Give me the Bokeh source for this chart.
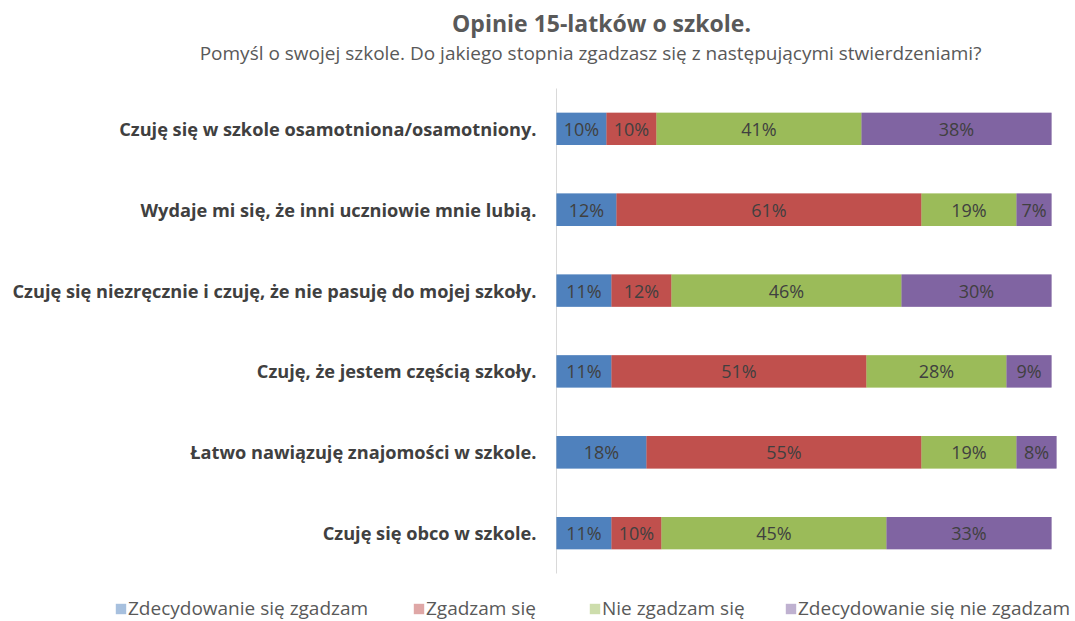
from bokeh.plotting import figure
from bokeh.models import ColumnDataSource, Range1d, Legend, LegendItem, Label
from bokeh.core.properties import value
from bokeh.embed import file_html
from bokeh.resources import INLINE

title_text = "Opinie 15-latków o szkole."
subtitle_text = "Pomyśl o swojej szkole. Do jakiego stopnia zgadzasz się z następującymi stwierdzeniami?"
categories = [
    "Czuję się w szkole osamotniona/osamotniony.",
    "Wydaje mi się, że inni uczniowie mnie lubią.",
    "Czuję się niezręcznie i czuję, że nie pasuję do mojej szkoły.",
    "Czuję, że jestem częścią szkoły.",
    "Łatwo nawiązuję znajomości w szkole.",
    "Czuję się obco w szkole.",
]
series_names = ["Zdecydowanie się zgadzam", "Zgadzam się", "Nie zgadzam się", "Zdecydowanie się nie zgadzam"]
strongly_agree = [10, 12, 11, 11, 18, 11]
agree = [10, 61, 12, 51, 55, 10]
disagree = [41, 19, 46, 28, 19, 45]
strongly_disagree = [38, 7, 30, 9, 8, 33]
colors = ["#4F81BD", "#C0504D", "#9BBB59", "#8064A2"]

FONT = "Open Sans"
TXT = "#404040"
GREY = "#595959"
W, H = 1075, 621

series = [strongly_agree, agree, disagree, strongly_disagree]
keys = ["s0", "s1", "s2", "s3"]
n = len(categories)
pos = list(range(n))  # 0 = top row
data = {"pos": pos, "cat": categories}
for k, s in zip(keys, series):
    data[k] = s
src = ColumnDataSource(data)

# x: 0..100 % occupies pixels 556..1056; y: rows fill pixels 88..573 (flipped so row 0 is on top)
px_per_unit = 5.0
row_px = 485 / n
x_range = Range1d(-556 / px_per_unit, (W - 556) / px_per_unit)
y_range = Range1d((H - 88) / row_px - 0.5, -88 / row_px - 0.5)

p = figure(width=W, height=H, output_backend="svg", toolbar_location=None,
           x_range=x_range, y_range=y_range, x_axis_location=None, y_axis_location=None,
           min_border=0, min_border_left=0, min_border_right=0, min_border_top=0, min_border_bottom=0)
p.outline_line_color = None
p.xgrid.visible = False
p.ygrid.visible = False

# category axis: line + labels
p.segment(x0=[0], y0=[-0.5], x1=[0], y1=[n - 0.5], line_color="#D9D9D9", line_width=1)
p.text(x=-4, y="pos", text="cat", source=src, text_align="right", text_baseline="middle",
       text_font=value(FONT), text_font_style="bold", text_font_size="18.2px", text_color=TXT)

# pale copies (hidden underneath) used as legend keys, then the bars
pale = p.hbar_stack(keys, y="pos", height=0.4, color=colors, fill_alpha=0.5, source=src, line_color=None)
p.hbar_stack(keys, y="pos", height=0.4, color=colors, source=src, line_color=None)

lx, ly, lt = [], [], []
for i in range(n):
    left = 0
    for s in series:
        v = s[i]
        lx.append(left + v / 2)
        ly.append(i)
        lt.append(f"{v}%")
        left += v
lsrc = ColumnDataSource(dict(x=lx, y=ly, t=lt))
p.text(x="x", y="y", text="t", source=lsrc, text_align="center", text_baseline="middle",
       text_font=value(FONT), text_font_size="18px", text_color=TXT)

# titles
p.add_layout(Label(x=601, y=H - 22, x_units="screen", y_units="screen", text=title_text,
                   text_align="center", text_baseline="middle", text_font=FONT, text_font_style="bold",
                   text_font_size="23px", text_color=GREY))
p.add_layout(Label(x=590, y=H - 52, x_units="screen", y_units="screen", text=subtitle_text,
                   text_align="center", text_baseline="middle", text_font=FONT,
                   text_font_size="19px", text_color=GREY))

# legend: one entry per box, placed like the original
legend_x = [114, 412, 588, 784]
for name, r, lxp in zip(series_names, pale, legend_x):
    lg = Legend(items=[LegendItem(label=name, renderers=[r])], orientation="horizontal",
                location=(lxp, 0), glyph_width=13, glyph_height=13, label_standoff=1,
                padding=0, margin=0, border_line_color=None, background_fill_alpha=0,
                label_text_font=FONT, label_text_font_size="19px", label_text_color=GREY)
    p.add_layout(lg)

open("out.html", "w").write(file_html(p, INLINE))
